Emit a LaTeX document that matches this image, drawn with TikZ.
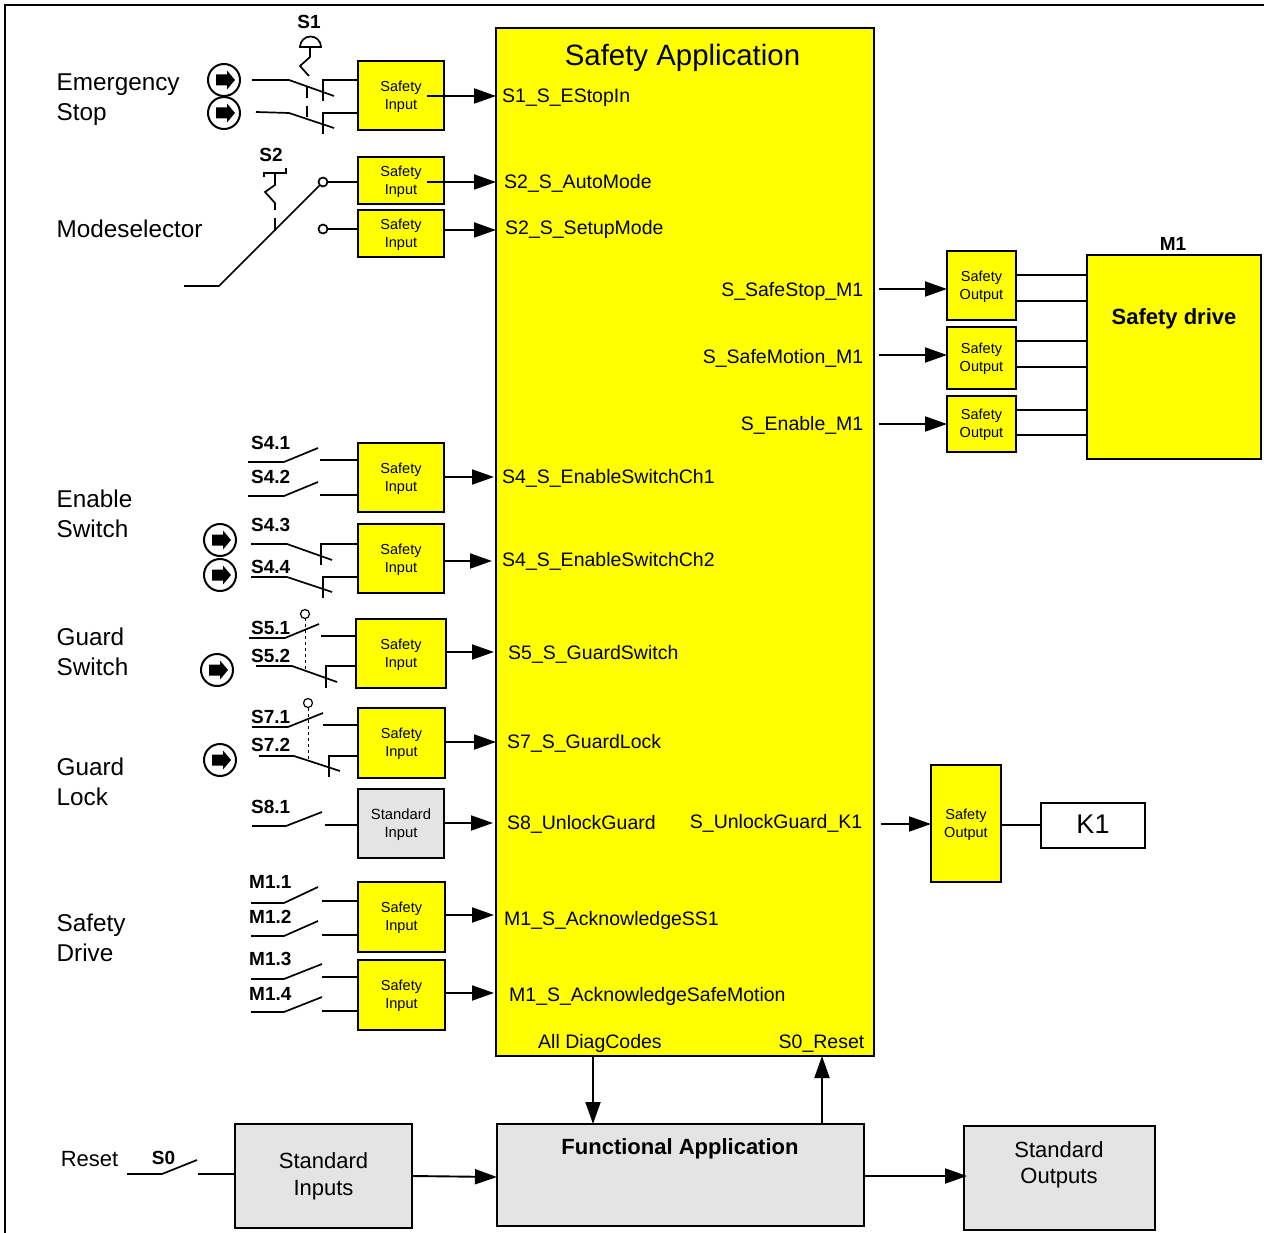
\documentclass[tikz,border=0pt]{standalone}
\usepackage{xcolor}
\usepackage{fontspec}
\setmainfont{Liberation Sans}
\usetikzlibrary{positioning, arrows.meta}
\definecolor{boxgray}{HTML}{E4E4E4}
\definecolor{boxyellow}{RGB}{255,255,0}

\begin{document}
\begin{tikzpicture}[
    x=1pt, y=-1pt,
    box/.style={draw, line width=2pt, outer sep=0pt, inner sep=0pt, align=center},
    safety/.style={box, fill=boxyellow, minimum width=#1, text height=30.5pt, font=\fontsize{14.5}{18}\selectfont},
    safety/.default=86pt,
    stdbox/.style={box, fill=boxgray, font=\fontsize{22}{27}\selectfont},
    arr/.style={-{Triangle[length=22pt, width=15pt]}, line width=1.9pt},
    wire/.style={line width=1.7pt},
    sig/.style={inner sep=0pt, text height=14pt, text depth=0pt, font=\fontsize{19.5}{23}\selectfont},
    group/.style={inner sep=0pt, anchor=north west, align=left, font=\fontsize{24.3}{30}\selectfont},
    tag/.style={inner sep=0pt, font=\fontsize{19}{23}\bfseries\selectfont},
    lampsign/.pic={
        \draw[line width=2pt, fill=white] (0,0) circle (16);
        \fill (-8,-5.5) -- (3,-5.5) -- (3,-9.5) -- (11,0) -- (3,9.5) -- (3,5.5) -- (-8,5.5) -- cycle;
    }
]
\useasboundingbox (0,0) rectangle (1264,1233);
\draw[line width=2.4pt] (5,1233) -- (5,5) -- (1264,5);

\node[box, fill=boxyellow, minimum width=378pt, minimum height=1028pt] (main) at (685,542) {};
\node[inner sep=0pt, font=\fontsize{29.4}{34}\selectfont] (title) at (682.5,58) {Safety Application};

% safety inputs
\node[safety, minimum height=69pt] (si1) at (401,95.5) {Safety\\Input};
\node[safety, minimum height=47pt] (si2a) at (401,180.5) {Safety\\Input};
\node[safety, minimum height=47pt, below=6pt of si2a] (si2b) {Safety\\Input};
\node[safety, minimum height=69pt] (si4a) at (401,477.5) {Safety\\Input};
\node[safety, minimum height=69pt, below=12pt of si4a] (si4b) {Safety\\Input};
\node[safety=90pt, minimum height=69pt] (si5) at (401,653.5) {Safety\\Input};
\node[safety=87pt, minimum height=70pt] (si7) at (401.5,743) {Safety\\Input};
\node[box, fill=boxgray, minimum width=86pt, minimum height=69pt, text height=30.5pt, font=\fontsize{14.8}{18}\selectfont] (si8) at (401,823.5) {Standard\\Input};
\node[safety=87pt, minimum height=70pt] (sim1a) at (401.5,917) {Safety\\Input};
\node[safety=87pt, minimum height=70pt, below=8pt of sim1a] (sim1b) {Safety\\Input};

% safety outputs
\node[safety=69pt, minimum height=69pt] (so1) at (981.5,285.5) {Safety\\Output};
\node[safety=69pt, minimum height=62pt, below=7pt of so1] (so2) {Safety\\Output};
\node[safety=69pt, minimum height=56pt, below=7pt of so2] (so3) {Safety\\Output};
\node[safety=70pt, minimum height=117pt] (so4) at (966,823.5) {Safety\\Output};

\node[box, fill=boxyellow, minimum width=174pt, minimum height=204pt] (drive) at (1174,357) {};
\node[inner sep=0pt, font=\fontsize{22}{27}\bfseries\selectfont] (drivetext) at (1174,319) {Safety drive};
\node[tag] (m1) at (1173,243.5) {M1};
\node[box, fill=white, minimum width=104pt, minimum height=45pt, text depth=2pt, font=\fontsize{27}{32}\selectfont] (k1) at (1093,825.5) {K1};

% bottom row
\node[stdbox, minimum width=177pt, minimum height=104pt] (stdin) at (323.5,1176) {Standard\\Inputs};
\node[stdbox, minimum width=367pt, minimum height=102pt] (func) at (680.5,1175) {};
\node[inner sep=0pt, font=\fontsize{22}{27}\bfseries\selectfont] (functext) at (680,1149) {Functional Application};
\node[stdbox, minimum width=191pt, minimum height=104pt] (stdout) at (1059.5,1178) {};
\node[inner sep=0pt, align=center, font=\fontsize{22}{26}\selectfont] (stdouttext) at (1059,1165) {Standard\\Outputs};

% signal names
\node[sig, anchor=west] (ls1) at (502,96) {S1\_S\_EStopIn};
\node[sig, anchor=west] (ls2a) at (504,182) {S2\_S\_AutoMode};
\node[sig, anchor=west] (ls2b) at (505,228) {S2\_S\_SetupMode};
\node[sig, anchor=west] (ls4a) at (502,476) {S4\_S\_EnableSwitchCh1};
\node[sig, anchor=west] (ls4b) at (502,559) {S4\_S\_EnableSwitchCh2};
\node[sig, anchor=west] (ls5) at (508,652) {S5\_S\_GuardSwitch};
\node[sig, anchor=west] (ls7) at (507,741) {S7\_S\_GuardLock};
\node[sig, anchor=west] (ls8) at (507,822) {S8\_UnlockGuard};
\node[sig, anchor=west] (lm1a) at (504,918) {M1\_S\_AcknowledgeSS1};
\node[sig, anchor=west] (lm1b) at (509,994) {M1\_S\_AcknowledgeSafeMotion};
\node[sig, anchor=west] (ldiag) at (538,1041) {All DiagCodes};
\node[sig, anchor=east] (lreset) at (864.5,1041) {S0\_Reset};
\node[sig, anchor=east] (lstop) at (863.5,290) {S\_SafeStop\_M1};
\node[sig, anchor=east] (lmotion) at (863.5,356) {S\_SafeMotion\_M1};
\node[sig, anchor=east] (lenable) at (863.5,423) {S\_Enable\_M1};
\node[sig, anchor=east] (lunlock) at (862.5,821) {S\_UnlockGuard\_K1};

% group names
\node[group] (gstop) at (56.5,73.5) {Emergency\\Stop};
\node[group] (gmode) at (56.5,219.5) {Modeselector};
\node[group] (genable) at (56.5,489.5) {Enable\\Switch};
\node[group] (gguard) at (56.5,627.5) {Guard\\Switch};
\node[group] (glock) at (56.5,757.5) {Guard\\Lock};
\node[group] (gdrive) at (56.5,913.5) {Safety\\Drive};
\node[inner sep=0pt, font=\fontsize{22}{27}\selectfont] (greset) at (89.5,1159) {Reset};

% switch tags
\node[tag] (t1) at (309,21.5) {S1};
\node[tag] (t2) at (271,154.5) {S2};
\node[tag, anchor=west] (t41) at (251,442.5) {S4.1};
\node[tag, anchor=west] (t42) at (251,476.5) {S4.2};
\node[tag, anchor=west] (t43) at (251,524.5) {S4.3};
\node[tag, anchor=west] (t44) at (251,566.5) {S4.4};
\node[tag, anchor=west] (t51) at (251,627.5) {S5.1};
\node[tag, anchor=west] (t52) at (251,655.5) {S5.2};
\node[tag, anchor=west] (t71) at (251,716.5) {S7.1};
\node[tag, anchor=west] (t72) at (251,744.5) {S7.2};
\node[tag, anchor=west] (t81) at (251,806.5) {S8.1};
\node[tag, anchor=west] (tm11) at (249,881.5) {M1.1};
\node[tag, anchor=west] (tm12) at (249,916.5) {M1.2};
\node[tag, anchor=west] (tm13) at (249,958.5) {M1.3};
\node[tag, anchor=west] (tm14) at (249,993.5) {M1.4};
\node[tag] (t0) at (163.5,1157.5) {S0};

% lamps
\pic at (224,80) {lampsign};
\pic at (224,113) {lampsign};
\pic at (220,540) {lampsign};
\pic at (220,575) {lampsign};
\pic at (217,670) {lampsign};
\pic at (220,760) {lampsign};

% S1 emergency stop
\draw[wire] (300,47) arc (180:360:10.5) -- cycle;
\draw[wire] (310,47) -- (310,57) -- (300,66) -- (309,76);
\draw[wire] (307,86) -- (307,98);
\draw[wire] (307,106) -- (307,117);
\draw[wire] (252,80) -- (289,80) -- (334,96);
\draw[wire] (256,112) -- (289,113) -- (334,128);
\draw[wire] (323,101) -- (323,80) -- (si1.west |- 0,80);
\draw[wire] (323,134) -- (323,113) -- (si1.west |- 0,113);

% S2 mode selector
\draw[wire] (264,177) -- (264,173) -- (286,173) -- (286,168);
\draw[wire] (275,173) -- (275,185) -- (265,192) -- (275,203) -- (275,210);
\draw[wire] (275,218) -- (275,231);
\draw[wire] (184,286) -- (219,286) -- (320,185);
\draw[wire, fill=white] (323,182) circle (4.5);
\draw[wire, fill=white] (323,229) circle (4.5);
\draw[wire] (327.5,182) -- (si2a.west |- 0,182);
\draw[wire] (327.5,229) -- (si2b.west |- 0,229);

% S4 enable switch
\draw[wire] (248,462) -- (284,462) -- (318,448);
\draw[wire] (320,460) -- (si4a.west |- 0,460);
\draw[wire] (248,496) -- (284,496) -- (318,482);
\draw[wire] (320,495) -- (si4a.west |- 0,495);
\draw[wire] (251,544) -- (287,544) -- (332,560);
\draw[wire] (321,565) -- (321,544) -- (si4b.west |- 0,544);
\draw[wire] (251,577) -- (287,577) -- (332,592);
\draw[wire] (323,598) -- (323,577) -- (si4b.west |- 0,577);

% S5 guard switch
\draw[wire] (249,638) -- (285,638) -- (319,624);
\draw[wire] (321,636) -- (si5.west |- 0,636);
\draw[wire] (256,666) -- (292,666) -- (337,682);
\draw[wire] (326,688) -- (326,666) -- (si5.west |- 0,666);
\draw[line width=1pt, dashed] (305,618) -- (305,671);
\draw[line width=1.2pt, fill=white] (305,614) circle (4.5);

% S7 guard lock
\draw[wire] (252,727) -- (288,727) -- (323,713);
\draw[wire] (323,725) -- (si7.west |- 0,725);
\draw[wire] (259,756) -- (294,756) -- (340,771);
\draw[wire] (329,777) -- (329,756) -- (si7.west |- 0,756);
\draw[line width=1pt, dashed] (308,708) -- (308,759);
\draw[line width=1.2pt, fill=white] (308,703) circle (4.5);

% S8, M1, S0
\draw[wire] (252,826) -- (286,826) -- (322,812);
\draw[wire] (325,825) -- (si8.west |- 0,825);
\draw[wire] (251,903) -- (284,903) -- (318,887);
\draw[wire] (322,901) -- (sim1a.west |- 0,901);
\draw[wire] (251,936) -- (284,936) -- (318,921);
\draw[wire] (322,935) -- (sim1a.west |- 0,935);
\draw[wire] (251,979) -- (284,979) -- (322,964);
\draw[wire] (322,977) -- (sim1b.west |- 0,977);
\draw[wire] (251,1012) -- (284,1012) -- (322,997);
\draw[wire] (322,1011) -- (sim1b.west |- 0,1011);
\draw[wire] (127,1174) -- (162,1174) -- (197,1160);
\draw[wire] (198,1174) -- (stdin.west |- 0,1174);

% arrows into the application
\draw[arr] ([xshift=-17pt, yshift=-0.5pt]si1.east) -- ([yshift=-0.5pt]si1.east -| main.west);
\draw[arr] ([xshift=-17pt, yshift=-1.5pt]si2a.east) -- ([yshift=-1.5pt]si2a.east -| main.west);
\draw[arr] ([yshift=3.5pt]si2b.east) -- ([yshift=3.5pt]si2b.east -| main.west);
\draw[arr, shorten >=2pt] ([yshift=0.5pt]si4a.east) -- ([yshift=0.5pt]si4a.east -| main.west);
\draw[arr, shorten >=4pt] ([yshift=-2.5pt]si4b.east) -- ([yshift=-2.5pt]si4b.east -| main.west);
\draw[arr, shorten >=2pt] ([yshift=1.5pt]si5.east) -- ([yshift=1.5pt]si5.east -| main.west);
\draw[arr] ([yshift=1pt]si7.east) -- ([yshift=1pt]si7.east -| main.west);
\draw[arr, shorten >=3pt] ([yshift=0.5pt]si8.east) -- ([yshift=0.5pt]si8.east -| main.west);
\draw[arr, shorten >=2pt] ([yshift=2pt]sim1a.east) -- ([yshift=2pt]sim1a.east -| main.west);
\draw[arr, shorten >=2pt] ([yshift=2pt]sim1b.east) -- ([yshift=2pt]sim1b.east -| main.west);

% arrows out of the application
\draw[arr] ([xshift=15.5pt, yshift=1pt]lstop.east) -- ([yshift=1pt]lstop.east -| so1.west);
\draw[arr] ([xshift=15.5pt, yshift=1pt]lmotion.east) -- ([yshift=1pt]lmotion.east -| so2.west);
\draw[arr] ([xshift=15.5pt, yshift=-1pt]lenable.east) -- ([yshift=-1pt]lenable.east -| so3.west);
\draw[arr] ([xshift=18pt, yshift=-3pt]lunlock.east) -- ([yshift=-3pt]lunlock.east -| so4.west);

% drive and K1 wires
\draw[wire] ([yshift=10.5pt]so1.east) -- ([yshift=10.5pt]so1.east -| drive.west);
\draw[wire] ([yshift=-15.5pt]so1.east) -- ([yshift=-15.5pt]so1.east -| drive.west);
\draw[wire] ([yshift=17pt]so2.east) -- ([yshift=17pt]so2.east -| drive.west);
\draw[wire] ([yshift=-9pt]so2.east) -- ([yshift=-9pt]so2.east -| drive.west);
\draw[wire] ([yshift=14pt]so3.east) -- ([yshift=14pt]so3.east -| drive.west);
\draw[wire] ([yshift=-11pt]so3.east) -- ([yshift=-11pt]so3.east -| drive.west);
\draw[wire] ([yshift=0.5pt]so4.east |- k1) -- ([yshift=0.5pt]k1.west);

% bottom arrows
\draw[arr] (593,0 |- main.south) -- (593,0 |- func.north);
\draw[arr] (822,0 |- func.north) -- (822,0 |- main.south);
\draw[arr] (stdin.east) -- (func.west |- 0,1177);
\draw[arr, shorten >=-3pt] ([yshift=-1pt]func.east) -- ([yshift=-1pt]stdout.west |- func.east);
\end{tikzpicture}
\end{document}
